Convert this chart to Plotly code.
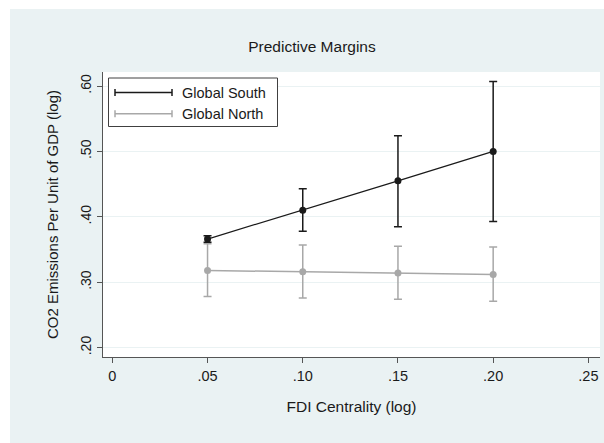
import plotly.graph_objects as go

# ---- data ----
fdi = [0.05, 0.10, 0.15, 0.20]
south_margin = [0.366, 0.410, 0.455, 0.500]
south_lower = [0.361, 0.378, 0.385, 0.393]
south_upper = [0.371, 0.443, 0.524, 0.607]
north_margin = [0.318, 0.316, 0.314, 0.312]
north_lower = [0.278, 0.276, 0.274, 0.271]
north_upper = [0.359, 0.357, 0.355, 0.354]
x_ticks = [0, 0.05, 0.10, 0.15, 0.20, 0.25]
x_ticklabels = ["0", ".05", ".10", ".15", ".20", ".25"]
y_ticks = [0.20, 0.30, 0.40, 0.50, 0.60]
y_ticklabels = [".20", ".30", ".40", ".50", ".60"]
series_names = ["Global South", "Global North"]

BG = "#EAF2F3"
SOUTH_C = "#1a1a1a"
NORTH_C = "#a8a8a8"
AX_C = "#555555"
FONT = "Liberation Sans, Arial, sans-serif"

W, H = 604, 443
ML, MR, MT, MB = 103, 4, 72, 86
PW, PH = W - ML - MR, H - MT - MB


def px_x(p):
    return (p - ML) / PW


def px_y(p):
    return (H - MB - p) / PH


fig = go.Figure()
for name, m, lo, up, col, lw in [
    (series_names[0], south_margin, south_lower, south_upper, SOUTH_C, 1.2),
    (series_names[1], north_margin, north_lower, north_upper, NORTH_C, 1.5),
]:
    fig.add_trace(go.Scatter(
        x=fdi, y=m, mode="lines+markers", name=name, showlegend=False,
        line=dict(color=col, width=lw),
        marker=dict(color=col, size=7),
        error_y=dict(type="data", symmetric=False,
                     array=[u - v for u, v in zip(up, m)],
                     arrayminus=[v - l for v, l in zip(m, lo)],
                     color=col, thickness=1.5, width=4),
    ))

shapes = [
    # white strips outside the graph region
    dict(type="rect", xref="paper", yref="paper", x0=px_x(0), x1=px_x(10), y0=px_y(H), y1=px_y(0),
         fillcolor="white", line=dict(width=0), layer="below"),
    dict(type="rect", xref="paper", yref="paper", x0=px_x(0), x1=px_x(W), y0=px_y(9), y1=px_y(0),
         fillcolor="white", line=dict(width=0), layer="below"),
    # legend box
    dict(type="rect", xref="paper", yref="paper", x0=px_x(108.5), x1=px_x(277.5),
         y0=px_y(126.5), y1=px_y(78), fillcolor="white", line=dict(color="#404040", width=1)),
]
annotations = []
for i, (name, col) in enumerate(zip(series_names, [SOUTH_C, NORTH_C])):
    yy = 92.5 + i * 21.3
    shapes.append(dict(type="line", xref="paper", yref="paper", x0=px_x(115), x1=px_x(172),
                       y0=px_y(yy), y1=px_y(yy), line=dict(color=col, width=1.5)))
    for xe in (115, 172):
        shapes.append(dict(type="line", xref="paper", yref="paper", x0=px_x(xe), x1=px_x(xe),
                           y0=px_y(yy - 3.5), y1=px_y(yy + 3.5), line=dict(color=col, width=1.5)))
    annotations.append(dict(text=name, xref="paper", yref="paper", x=px_x(180), y=px_y(yy),
                            xanchor="left", yanchor="middle", showarrow=False,
                            font=dict(family=FONT, size=14.5, color="#1a1a1a")))

fig.update_layout(
    width=W, height=H,
    margin=dict(l=ML, r=MR, t=MT, b=MB),
    paper_bgcolor=BG, plot_bgcolor="white",
    font=dict(family=FONT, color="#1a1a1a"),
    title=dict(text="Predictive Margins", x=312 / W, xanchor="center", xref="container",
               y=1 - 47 / H, yanchor="middle", yref="container",
               font=dict(family=FONT, size=15.5, color="#1a1a1a")),
    xaxis=dict(range=[-0.0049, 0.2561], tickvals=x_ticks, ticktext=x_ticklabels,
               showgrid=False, zeroline=False, showline=True, linecolor=AX_C, linewidth=1.2,
               ticks="outside", ticklen=5, tickcolor=AX_C,
               tickfont=dict(size=14.5, color="#1a1a1a"),
               title=dict(text="FDI Centrality (log)", font=dict(size=15.5, color="#1a1a1a"), standoff=18)),
    yaxis=dict(range=[0.1857, 0.6214], tickvals=y_ticks, ticktext=y_ticklabels, tickangle=-90,
               showgrid=True, gridcolor=BG, gridwidth=1, zeroline=False,
               showline=True, linecolor=AX_C, linewidth=1.2,
               ticks="outside", ticklen=5, tickcolor=AX_C,
               tickfont=dict(size=14, color="#1a1a1a"),
               title=dict(text="CO2 Emissions Per Unit of GDP (log)", font=dict(size=15, color="#1a1a1a"),
                          standoff=16)),
    shapes=shapes, annotations=annotations,
    showlegend=False,
)
fig.write_html("out.html")
